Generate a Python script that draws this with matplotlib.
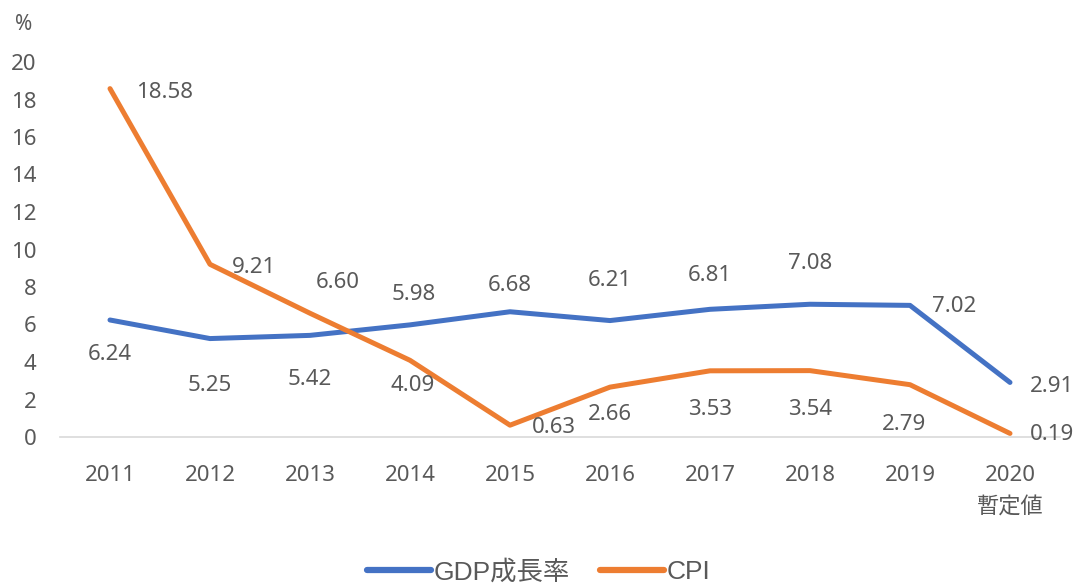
import matplotlib.pyplot as plt

plt.rcParams['font.family'] = ['Noto Sans', 'Noto Sans CJK JP', 'DejaVu Sans']

years = ["2011", "2012", "2013", "2014", "2015", "2016", "2017", "2018", "2019", "2020\n暫定値"]
gdp = [6.24, 5.25, 5.42, 5.98, 6.68, 6.21, 6.81, 7.08, 7.02, 2.91]
cpi = [18.58, 9.21, 6.60, 4.09, 0.63, 2.66, 3.53, 3.54, 2.79, 0.19]

# label placement: (dx, dy) in points and horizontal alignment
gdp_off = [(0, -25, 'center'), (0, -34, 'center'), (0, -32, 'center'), (3, 22, 'center'),
           (0, 19, 'center'), (0, 29, 'center'), (0, 24, 'center'), (0, 29, 'center'),
           (16, -1, 'left'), (14, -3, 'left')]
cpi_off = [(19, -3, 'left'), (16, -2, 'left'), (20, 22, 'center'), (2, -18, 'center'),
           (16, -2, 'left'), (0, -20, 'center'), (0, -28, 'center'), (0, -28, 'center'),
           (-4, -29, 'center'), (14, -1, 'left')]

TXT = '#595959'
BLUE = '#4472C4'
ORANGE = '#ED7D31'
FS = 16

fig = plt.figure(figsize=(10.78, 5.85), dpi=100)
ax = fig.add_axes([60 / 1078, 148 / 585, 1000 / 1078, 375 / 585])

x = list(range(len(years)))
ax.plot(x, gdp, color=BLUE, lw=3.6, solid_capstyle='round', solid_joinstyle='round', label='GDP成長率')
ax.plot(x, cpi, color=ORANGE, lw=3.6, solid_capstyle='round', solid_joinstyle='round', label='CPI')


def put_labels(vals, offs):
    for xi, v, (dx, dy, ha) in zip(x, vals, offs):
        ax.annotate(f"{v:.2f}", (xi, v), xytext=(dx, dy), textcoords='offset points',
                    ha=ha, va='center', fontsize=FS, color=TXT, annotation_clip=False)


put_labels(gdp, gdp_off)
put_labels(cpi, cpi_off)

ax.set_xlim(-0.5, len(years) - 0.5)
ax.set_ylim(0, 20)
ax.set_yticks(range(0, 21, 2))
ax.set_xticks(x)
ax.set_xticklabels(years, linespacing=1.7)
ax.tick_params(axis='both', length=0, labelsize=FS, colors=TXT)
ax.tick_params(axis='x', pad=20)
ax.tick_params(axis='y', pad=17)
for sp in ['top', 'right', 'left']:
    ax.spines[sp].set_visible(False)
ax.spines['bottom'].set_color('#D9D9D9')
ax.spines['bottom'].set_linewidth(1.2)

fig.text(24 / 1078, 1 - 25 / 585, '%', ha='center', va='center', fontsize=FS - 1, color=TXT)

leg = fig.legend(loc='center', bbox_to_anchor=(0.5, 1 - 572 / 585), ncol=2, frameon=False,
                 prop={'family': ['Liberation Sans', 'Noto Sans CJK JP'], 'size': 19},
                 handlelength=2.4, columnspacing=1.15, handletextpad=0.12)
for t in leg.get_texts():
    t.set_color(TXT)
for ln in leg.get_lines():
    ln.set_linewidth(4.5)

fig.savefig('out.png', dpi=100)
